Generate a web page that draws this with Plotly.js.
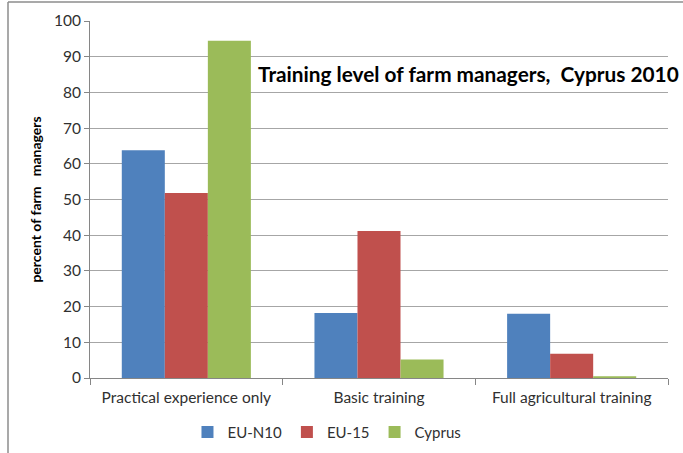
<!DOCTYPE html>
<html><head><meta charset="utf-8">
<script src="https://cdn.plot.ly/plotly-3.0.1.min.js"></script>
<style>html,body{margin:0;padding:0;background:#fff}#c{width:683px;height:453px}</style>
</head><body><div id="c"></div>
<script>
const categories = ["Practical experience only", "Basic training", "Full agricultural training"];
const seriesNames = ["EU-N10", "EU-15", "Cyprus"];
const euN10 = [63.8, 18.2, 18.0];
const eu15 = [51.8, 41.2, 6.8];
const cyprus = [94.5, 5.2, 0.5];
const yTicks = [0, 10, 20, 30, 40, 50, 60, 70, 80, 90, 100];
const colors = ["#4F81BD", "#C0504D", "#9BBB59"];

const values = [euN10, eu15, cyprus];
const traces = values.map((v, i) => ({
  type: "bar", x: categories, y: v, name: seriesNames[i],
  marker: {color: colors[i]}, hoverinfo: "skip"
}));

const layout = {
  width: 683, height: 453,
  margin: {l: 90, r: 15, t: 21, b: 75, autoexpand: false},
  paper_bgcolor: "#fff", plot_bgcolor: "#fff",
  barmode: "group", bargap: 0.33, bargroupgap: 0,
  font: {family: "Lato, 'Open Sans', sans-serif", size: 15, color: "#404040"},
  xaxis: {
    type: "category", showgrid: false, zeroline: false,
    showline: true, linecolor: "#868686", linewidth: 1,
    ticks: "outside", tickson: "boundaries", ticklen: 6, tickcolor: "#868686",
    ticklabelstandoff: 5,
    tickfont: {size: 15.5, color: "#303030"}
  },
  yaxis: {
    range: [0, 100], tickvals: yTicks, ticktext: yTicks.map(String),
    showgrid: true, gridcolor: "#A6A6A6", gridwidth: 1, zeroline: false,
    showline: true, linecolor: "#868686", linewidth: 1,
    ticks: "outside", ticklen: 5, tickcolor: "#868686",
    tickfont: {size: 15.5, color: "#303030"},
    title: {text: "percent of farm   managers", font: {size: 14, color: "#000", weight: "bold"}, standoff: 9}
  },
  legend: {
    orientation: "h", x: 0.41, xanchor: "center", y: -0.152, yanchor: "middle",
    font: {size: 15, color: "#303030"}, itemwidth: 30, traceorder: "normal"
  },
  annotations: [{
    text: "<b>Training level of farm managers,  Cyprus 2010</b>",
    xref: "paper", yref: "paper", x: 1.022, y: 0.852, xanchor: "right", yanchor: "middle",
    showarrow: false, font: {size: 20.8, color: "#000"}
  }],
  shapes: [
    {type: "line", xref: "paper", yref: "paper", x0: -82/578, x1: -82/578, y0: -80/357, y1: 1 + 19/357, line: {color: "#8C8C8C", width: 1.5}},
    {type: "line", xref: "paper", yref: "paper", x0: -82/578, x1: 1 + 20/578, y0: 1 + 19/357, y1: 1 + 19/357, line: {color: "#8C8C8C", width: 1.5}}
  ],
  showlegend: true
};
Plotly.newPlot("c", traces, layout, {displayModeBar: false, staticPlot: true});
</script></body></html>
